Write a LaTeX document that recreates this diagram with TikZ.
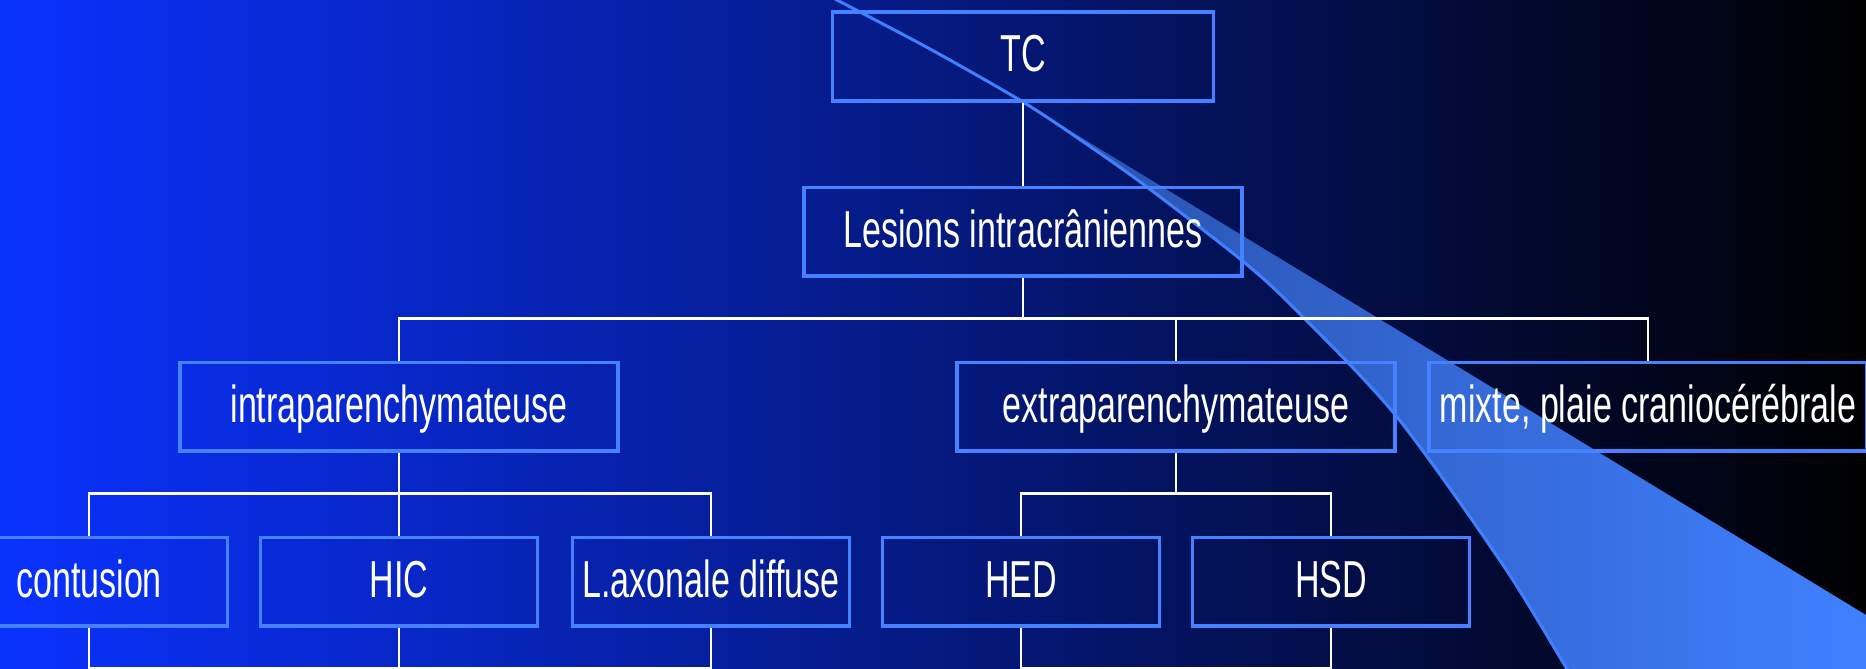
\documentclass[tikz,border=0pt]{standalone}
\usepackage{fontspec}
\setmainfont[FakeStretch=0.655]{Liberation Sans}
\usetikzlibrary{positioning}

\definecolor{bgblue}{RGB}{10,50,255}
\definecolor{boxblue}{RGB}{70,130,255}
\definecolor{beamdark}{RGB}{40,80,170}
\definecolor{beamlight}{RGB}{64,128,255}

\tikzset{
  box/.style={draw=boxblue, line width=3.5pt, text=white, inner sep=0pt,
    minimum height=88.5pt, text height=34.5pt, text depth=3.5pt,
    font=\fontsize{52}{60}\selectfont},
  widebox/.style={box, minimum width=438pt},
  smallbox/.style={box, minimum width=277pt},
  link/.style={draw=white, line width=2.5pt},
}

\begin{document}
\begin{tikzpicture}[x=1pt, y=-1pt, node distance=83pt]
					% Background
					\shade[left color=bgblue, right color=black] (0,0) rectangle (1866,669);
					\useasboundingbox (0,0) rectangle (1866,669);
					
					% Light beam
					\shade[left color=beamdark, right color=beamlight]
					  plot[smooth] coordinates {(1031,107) (1085,143) (1147,187) (1245,263) (1300,314) (1397,417) (1503,565) (1567,669) (1590,706)}
					  -- (1866,706) -- (1866,615) -- cycle;
					\draw[beamlight, line width=3pt]
					  plot[smooth] coordinates {(799,-20) (837,0) (930,49) (1023,102) (1085,143) (1147,187) (1245,263) (1300,314) (1397,417) (1503,565) (1567,669) (1590,706)};
					
					% Top nodes
					\node (tc) [box, minimum width=381pt] at (1023,56.5) {TC};
					\node (lesions) [widebox, below=of tc] {Lesions intracrâniennes};
					
					% Second level
					\node (intra) [widebox, below=of lesions, xshift=-624pt] {intraparenchymateuse};
					\node (extra) [widebox, below=of lesions, xshift=153pt] {extraparenchymateuse};
					\node (mixte) [widebox, below=of lesions, xshift=625pt] {mixte, plaie craniocérébrale};
					
					% Third level
					\node (contusion) [smallbox, below=of intra, xshift=-310pt] {contusion};
					\node (hic) [smallbox, below=of intra] {HIC};
					\node (lad) [smallbox, below=of intra, xshift=312pt] {L.axonale diffuse};
					\node (hed) [smallbox, below=of extra, xshift=-155pt] {HED};
					\node (hsd) [smallbox, below=of extra, xshift=155pt] {HSD};
					
					% Bars
					\path (lesions.south) ++(0,41) coordinate (bar1);
					\path (intra.south) ++(0,41) coordinate (bar2);
					\path (extra.south) ++(0,41) coordinate (bar3);
					\path (hic.south) ++(0,41) coordinate (bar4);
					\path (hed.south) ++(0,41) coordinate (bar5);
					
					% Links from TC down
					\draw[link] (tc.south) -- (lesions.north);
					\draw[link] (lesions.south) -- (bar1);
					\draw[link] (intra.north) |- (bar1) -| (mixte.north);
					\draw[link] (extra.north) -- (extra.north|-bar1);
					
					% Links to third level
					\draw[link] (intra.south) -- (bar2);
					\draw[link] (contusion.north) |- (bar2) -| (lad.north);
					\draw[link] (hic.north) -- (hic.north|-bar2);
					\draw[link] (extra.south) -- (bar3);
					\draw[link] (hed.north) |- (bar3) -| (hsd.north);
					
					% Links leaving the picture
					\draw[link] (contusion.south) |- (bar4) -| (lad.south);
					\draw[link] (hic.south) -- (bar4);
					\draw[link] (hed.south) |- (bar5) -| (hsd.south);
				\end{tikzpicture}
\end{document}
